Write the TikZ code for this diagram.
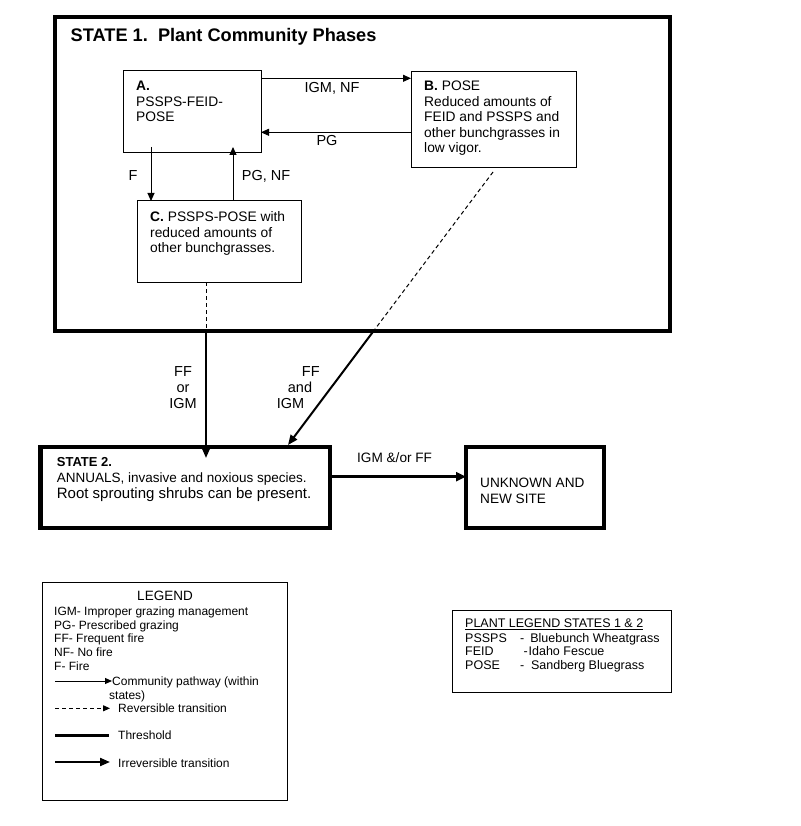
\documentclass[tikz,border=0pt]{standalone}
\usepackage{fontspec}
\setmainfont{Liberation Sans}
\usetikzlibrary{arrows.meta,calc}
\begin{document}
\begin{tikzpicture}[x=1pt,y=-1pt,
  thinbox/.style={draw, line width=1pt, anchor=north west, inner sep=0pt, outer sep=0pt},
  statebox/.style={draw, line width=4pt, anchor=north west, inner sep=0pt, outer sep=0pt},
  txt/.style={anchor=north west, inner sep=0pt, align=left, font=\fontsize{13.8}{15.5}\selectfont},
  lbl/.style={inner sep=0pt, align=center, font=\fontsize{14.5}{15.7}\selectfont},
  legtxt/.style={inner sep=0pt, align=left, font=\fontsize{12}{13.75}\selectfont},
  pathway/.style={line width=1pt, -{Triangle[length=8pt,width=7pt]}},
  trans/.style={line width=2pt, -{Triangle[length=10pt,width=8pt]}},
  revers/.style={line width=1pt, dash pattern=on 4pt off 3pt},
]
\useasboundingbox (0,0) rectangle (800,826);
\fill[white] (0,0) rectangle (800,826);

% ---------- State 1 ----------
\node[statebox, minimum width=615pt, minimum height=314pt] (S1) at (55,17) {};
\node[anchor=north west, inner sep=0pt, font=\fontsize{18.2}{20}\selectfont\bfseries] (T1) at (70.5,28.3) {STATE 1.~~Plant Community Phases};

\node[thinbox, minimum width=138pt, minimum height=82pt] (A) at (123,71) {};
\node[thinbox, minimum width=165pt, minimum height=96pt] (B) at (411,71.5) {};
\node[thinbox, minimum width=164pt, minimum height=81pt] (C) at (137,201) {};

\node[txt] (Atxt) at (136,81) {\textbf{A.}\\PSSPS-FEID-\\POSE};
\node[txt] (Btxt) at (424,80.7) {\textbf{B.} POSE\\Reduced amounts of\\FEID and PSSPS and\\other bunchgrasses in\\low vigor.};
\node[txt] (Ctxt) at (150,211.5) {\textbf{C.} PSSPS-POSE with\\reduced amounts of\\other bunchgrasses.};

% community pathways
\draw[pathway] ([yshift=-7.3pt]A.north east) -- ([yshift=-7.3pt]A.north east -| B.west);
\draw[pathway] ([yshift=-61.3pt]A.north east -| B.west) -- ([yshift=-61.3pt]A.north east);
\draw[pathway] ([xshift=28pt,yshift=6pt]A.south west) -- ([xshift=28pt]A.south west |- C.north);
\draw[pathway] ([xshift=110pt]A.south west |- C.north) -- ([xshift=110pt,yshift=6pt]A.south west);

\node[lbl] (l1) at (332,88) {IGM, NF};
\node[lbl] (l2) at (327,141) {PG};
\node[lbl] (l3) at (133,176) {F};
\node[lbl] (l4) at (266,176) {PG, NF};

% ---------- State 2 and unknown ----------
\node[statebox, line width=4.5pt, minimum width=289.5pt, minimum height=81pt] (S2) at (40.5,447) {};
\node[statebox, line width=4.5pt, minimum width=138pt, minimum height=81pt] (U) at (466,447) {};

\node[anchor=north west, inner sep=0pt, align=left, font=\fontsize{13.5}{16}\selectfont] (S2txt) at (56.7,457.5)
  {{\fontsize{13}{16}\selectfont\textbf{STATE 2.}}\\ANNUALS, invasive and noxious species.\\{\fontsize{15}{16}\selectfont Root sprouting shrubs can be present.}};
\node[anchor=north west, inner sep=0pt, align=left, font=\fontsize{13.6}{16}\selectfont] (Utxt) at (480,477.3) {UNKNOWN AND\\NEW SITE};

\draw[line width=2.5pt, -{Triangle[length=10pt,width=9pt]}] ([yshift=-29.7pt]S2.north east) -- ([yshift=-29.7pt]S2.north east -| U.west);
\node[lbl, font=\fontsize{13.6}{16}\selectfont] (l7) at (394.6,458) {IGM \&/or FF};

% transitions from state 1 to state 2
\coordinate (cd) at ([xshift=69pt]C.south west);
\coordinate (cx) at (cd |- S1.south);
\coordinate (ce) at ($(cd |- S2.north)+(0,11)$);
\draw[revers] (cd) -- (cx);
\draw[trans] (cx) -- (ce);

\coordinate (bd) at ($(B.south west)+(82,4.5)$);
\coordinate (be) at ($(S2.north west)+(247.5,-2)$);
\coordinate (bx) at ($(bd)!0.5824!(be)$);
\draw[revers] (bd) -- (bx);
\draw[trans] (bx) -- (be);

\node[lbl] (l5) at (183,387.5) {FF\\or\\IGM};
\node[lbl, align=left, anchor=north west] (l6) at (276.7,366.5) {\hspace*{25pt}FF\\\hspace*{11pt}and\\IGM};

% ---------- Legend ----------
\node[thinbox, minimum width=245pt, minimum height=218pt] (L) at (42,582) {};
\node[anchor=base, inner sep=0pt, font=\fontsize{13.5}{15}\selectfont] (Lt) at (165,600) {LEGEND};
\node[legtxt, anchor=north west] (Ltxt) at (54,606.4) {IGM- Improper grazing management\\PG- Prescribed grazing\\FF- Frequent fire\\NF- No fire\\F- Fire};

\coordinate (k1a) at (55,681); \coordinate (k1b) at (112,681);
\draw[line width=1pt, -{Triangle[length=7pt,width=6pt]}] (k1a) -- (k1b);
\node[legtxt, anchor=north west] (k1t) at (109,676.7) {\hspace*{3pt}Community pathway (within\\states)};

\coordinate (k2a) at (55,708.3); \coordinate (k2b) at (110,708.3);
\draw[revers, -{Triangle[length=7pt,width=6pt]}] (k2a) -- (k2b);
\node[legtxt, anchor=west] (k2t) at (118,708) {Reversible transition};

\coordinate (k3a) at (55,735.7); \coordinate (k3b) at (109,735.7);
\draw[line width=3pt] (k3a) -- (k3b);
\node[legtxt, anchor=west] (k3t) at (118,735.5) {Threshold};

\coordinate (k4a) at (55,762); \coordinate (k4b) at (110,762);
\draw[trans] (k4a) -- (k4b);
\node[legtxt, anchor=west] (k4t) at (118,763) {Irreversible transition};

% ---------- Plant legend ----------
\node[thinbox, minimum width=219pt, minimum height=82pt] (P) at (452,610) {};
\node[legtxt, anchor=north west, font=\fontsize{12.5}{13.6}\selectfont] (Ptxt) at (465,619)
  {\underline{PLANT LEGEND STATES 1 \& 2}\\[0.5pt]
   \makebox[55pt][l]{PSSPS}-\hspace{6pt}Bluebunch Wheatgrass\\
   \makebox[58.3pt][l]{FEID}-\hspace{1pt}Idaho Fescue\\
   \makebox[55pt][l]{POSE}-\hspace{6.7pt}Sandberg Bluegrass};
\end{tikzpicture}
\end{document}
